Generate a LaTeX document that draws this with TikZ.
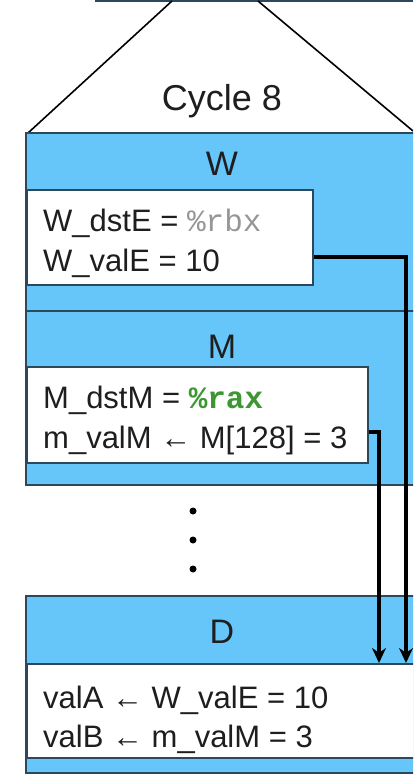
\documentclass[tikz,border=0pt]{standalone}
\usepackage{fontspec}
\setmainfont{Liberation Sans}
\setmonofont{Liberation Mono}
\usetikzlibrary{arrows.meta}
\definecolor{stageblue}{RGB}{102,198,250}
\definecolor{edgecol}{RGB}{45,72,90}
\definecolor{regcol}{RGB}{150,150,150}
\definecolor{raxcol}{RGB}{60,150,50}
\definecolor{txt}{RGB}{30,30,30}
\tikzset{
  stagebox/.style={fill=stageblue, draw=edgecol, line width=2.4pt},
  whitebox/.style={fill=white, draw=edgecol, line width=2.4pt, inner sep=0pt},
  stagelabel/.style={font=\fontsize{34}{34}\selectfont, text=txt, inner sep=0pt},
  linetext/.style={font=\fontsize{31}{31}\selectfont, text=txt, anchor=base west, inner sep=0pt},
  fwd/.style={line width=3.6pt, black, -{Stealth[length=15pt, width=14pt]}},
  dotmark/.style={circle, fill=black, inner sep=0pt, minimum size=7pt},
}
\begin{document}
\begin{tikzpicture}[x=1pt, y=-1pt]
\useasboundingbox (0,0) rectangle (413,775);
\clip (0,0) rectangle (413,775);
% top previous block edge
\fill[stageblue] (172,-4) rectangle (258,1);
\draw[edgecol, line width=2pt] (95,1) -- (413,1);
% trapezoid sides
\draw[black, line width=1.6pt] (172,1) -- (28,133);
\draw[black, line width=1.6pt] (258,1) -- (413,131);
\node[font=\fontsize{36}{36}\selectfont, text=txt, inner sep=0pt, anchor=base] (cyc) at (222,111) {Cycle 8};

% W stage
\draw[stagebox] (26,133) rectangle (425,311);
\node[stagelabel, anchor=base] (wlab) at (222,176) {W};
\node[whitebox, anchor=north west, minimum width=286pt, minimum height=95pt] (wbox) at (26,189) {};
\node[linetext] (wdst) at (43,232) {W\_dstE = {\ttfamily\color{regcol}\%rbx}};
\node[linetext] (wval) at (43,272) {W\_valE = 10};

% M stage
\draw[stagebox] (26,311) rectangle (425,485);
\node[stagelabel, anchor=base] (mlab) at (222,358) {M};
\node[whitebox, anchor=north west, minimum width=341pt, minimum height=96pt] (mbox) at (26,366) {};
\node[linetext] (mdst) at (43,408) {M\_dstM = {\ttfamily\bfseries\color{raxcol}\%rax}};
\node[linetext] (mval) at (43,448) {m\_valM ← M[128] = 3};

% dots
\node[dotmark] (d1) at (193,511) {};
\node[dotmark] (d2) at (193,540) {};
\node[dotmark] (d3) at (193,569) {};

% D stage
\draw[stagebox] (26,596) rectangle (425,773);
\node[stagelabel, anchor=base] (dlab) at (222,643) {D};
\node[whitebox, anchor=north west, minimum width=399pt, minimum height=94pt] (dbox) at (26,663) {};
\node[linetext] (dva) at (43,708) {valA ← W\_valE = 10};
\node[linetext] (dvb) at (43,747) {valB ← m\_valM = 3};

% forwarding paths
\coordinate (wout) at (wbox.east |- 0,257);
\coordinate (mout) at (mbox.east |- 0,432);
\coordinate (dinA) at (406,663);
\coordinate (dinB) at (379,663);
\draw[fwd] (wout) -| (dinA);
\draw[fwd] (mout) -| (dinB);
\end{tikzpicture}
\end{document}
